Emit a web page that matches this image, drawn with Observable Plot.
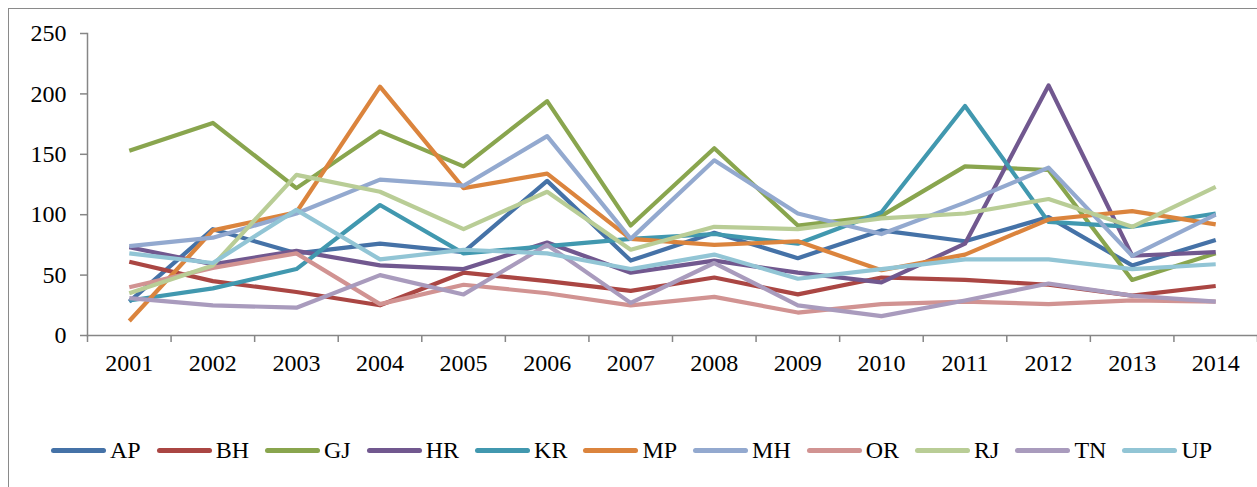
<!DOCTYPE html>
<html>
<head>
<meta charset="utf-8">
<script src="https://cdn.jsdelivr.net/npm/d3@7"></script>
<script src="https://cdn.jsdelivr.net/npm/@observablehq/plot@0.6"></script>
<style>
  html, body { margin: 0; padding: 0; background: #fff; }
  body { width: 1257px; height: 487px; overflow: hidden; position: relative; font-family: "Liberation Serif", "Times New Roman", serif; }
  #frame { position: absolute; left: 8px; top: 8px; width: 1400px; height: 600px; border-left: 1px solid #8a8a8a; border-top: 1px solid #8a8a8a; }
  #chart { position: absolute; left: 0; top: 0; }
  #legend { position: absolute; left: 51px; top: 436px; display: flex; align-items: center; height: 28px; }
  .item { display: flex; align-items: center; margin-right: 16px; }
  .sw { width: 55px; height: 5px; border-radius: 3px; margin-right: 4px; }
  .lb { font-size: 24px; color: #000; line-height: 28px; }
</style>
</head>
<body>
<div id="frame"></div>
<div id="chart"></div>
<div id="legend"></div>
<script>
const years = [2001, 2002, 2003, 2004, 2005, 2006, 2007, 2008, 2009, 2010, 2011, 2012, 2013, 2014];
const seriesNames = ["AP", "BH", "GJ", "HR", "KR", "MP", "MH", "OR", "RJ", "TN", "UP"];
const AP = [28, 88, 68, 76, 69, 128, 62, 85, 64, 87, 78, 98, 58, 79];
const BH = [61, 45, 36, 25, 52, 45, 37, 48, 34, 48, 46, 42, 33, 41];
const GJ = [153, 176, 122, 169, 140, 194, 91, 155, 91, 99, 140, 137, 46, 68];
const HR = [73, 59, 70, 58, 55, 77, 52, 62, 52, 44, 76, 207, 66, 69];
const KR = [29, 39, 55, 108, 68, 74, 80, 84, 76, 102, 190, 94, 90, 101];
const MP = [12, 87, 102, 206, 122, 134, 80, 75, 78, 54, 67, 96, 103, 92];
const MH = [74, 81, 101, 129, 124, 165, 80, 145, 101, 84, 110, 139, 66, 100];
const OR = [40, 56, 68, 26, 42, 35, 25, 32, 19, 26, 28, 26, 29, 28];
const RJ = [35, 58, 133, 119, 88, 119, 71, 90, 88, 97, 101, 113, 90, 123];
const TN = [31, 25, 23, 50, 34, 75, 27, 60, 25, 16, 29, 43, 33, 28];
const UP = [68, 60, 104, 63, 71, 68, 55, 67, 47, 55, 63, 63, 55, 59];
const yTicks = [0, 50, 100, 150, 200, 250];
const colors = ["#4572A7", "#AA4643", "#89A54E", "#71588F", "#4198AF", "#DB843D", "#93A9CF", "#D19392", "#B9CD96", "#A99BBD", "#92C5D5"];

const valuesBySeries = {AP, BH, GJ, HR, KR, MP, MH, OR, RJ, TN, UP};
const rows = seriesNames.flatMap(s => years.map((yr, i) => ({series: s, year: yr, value: valuesBySeries[s][i]})));
const boundaries = [years[0] - 0.5, ...years.map(y => y + 0.5)];

const chart = Plot.plot({
  width: 1257,
  height: 400,
  marginLeft: 87,
  marginRight: 0,
  marginTop: 33,
  marginBottom: 65,
  style: {fontFamily: "'Liberation Serif', 'Times New Roman', serif", fontSize: "24px", color: "#000", background: "transparent", overflow: "visible"},
  x: {type: "linear", domain: [years[0] - 0.5, years[years.length - 1] + 0.5]},
  y: {domain: [0, 250]},
  color: {domain: seriesNames, range: colors},
  marks: [
    Plot.axisY({ticks: yTicks, tickSize: 7, tickPadding: 14, stroke: "#868686", strokeWidth: 1.5, fill: "#000", label: null, tickFormat: d => String(d)}),
    Plot.axisX({ticks: boundaries, tickSize: 7, stroke: "#868686", strokeWidth: 1.5, tickFormat: () => "", label: null}),
    Plot.axisX({ticks: years, tickSize: 0, tickPadding: 18, fill: "#000", label: null, tickFormat: d => String(d)}),
    Plot.frame({anchor: "left", stroke: "#868686", strokeWidth: 1.5}),
    Plot.frame({anchor: "bottom", stroke: "#868686", strokeWidth: 1.5}),
    Plot.line(rows, {x: "year", y: "value", z: "series", stroke: "series", strokeWidth: 4.2, strokeLinejoin: "round", strokeLinecap: "butt", curve: "linear"})
  ]
});
document.getElementById("chart").appendChild(chart);

const legend = document.getElementById("legend");
seriesNames.forEach((s, i) => {
  const item = document.createElement("div");
  item.className = "item";
  const sw = document.createElement("div");
  sw.className = "sw";
  sw.style.background = colors[i];
  const lb = document.createElement("span");
  lb.className = "lb";
  lb.textContent = s;
  item.appendChild(sw);
  item.appendChild(lb);
  legend.appendChild(item);
});
</script>
</body>
</html>
